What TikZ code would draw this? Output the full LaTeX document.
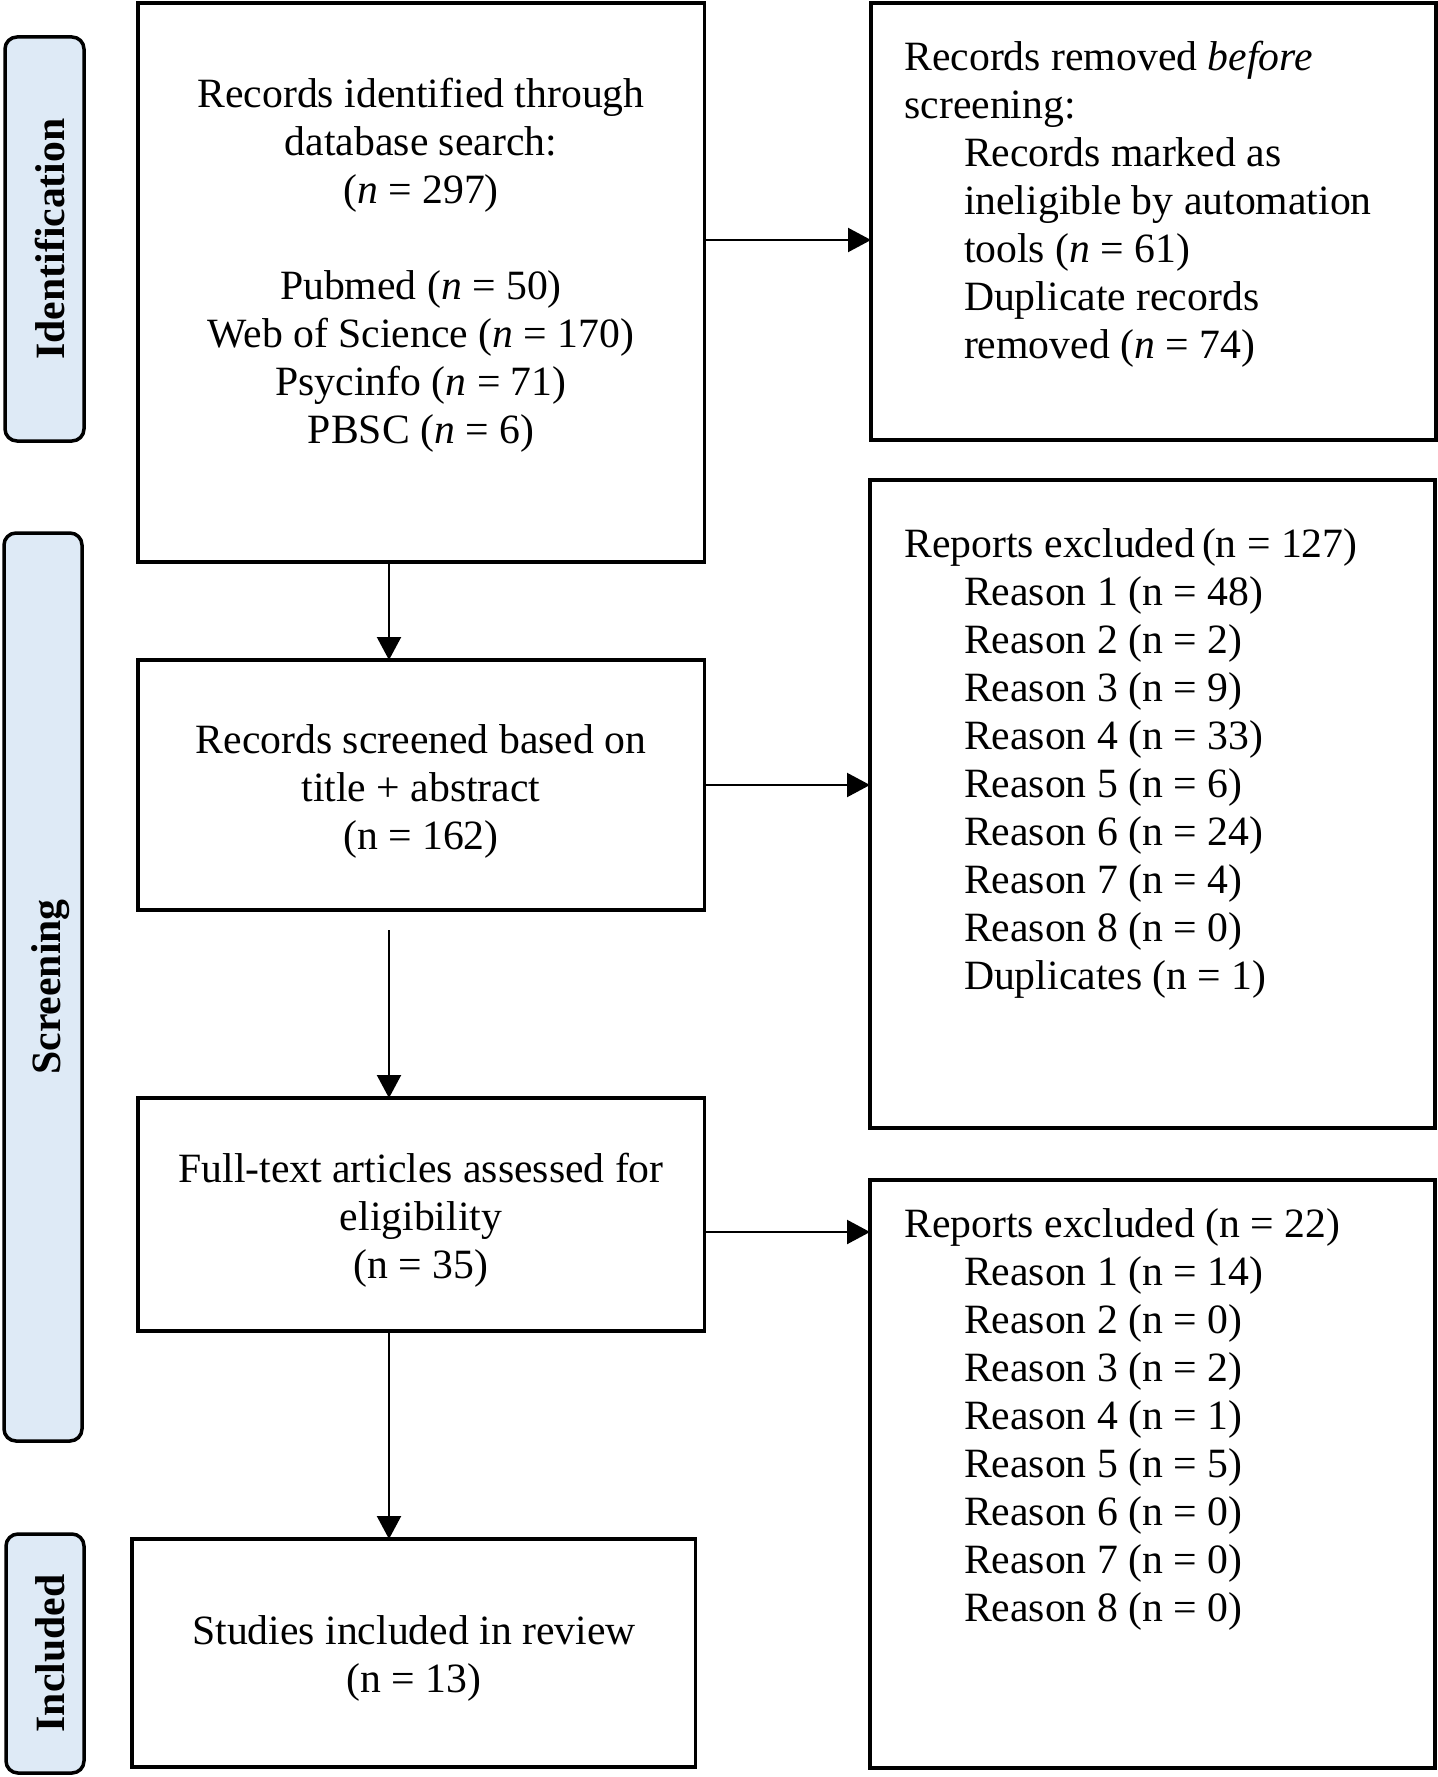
\documentclass[tikz,border=0pt]{standalone}
\usepackage{fontspec}
\setmainfont{Liberation Serif}
\usetikzlibrary{arrows.meta}
\definecolor{labelblue}{HTML}{DEEAF6}
\begin{document}
\begin{tikzpicture}[x=0.5pt,y=-0.5pt,
  box/.style={draw=black, line width=1.75pt, inner sep=0pt, outer sep=0pt, fill=white},
  phase/.style={draw=black, line width=1.75pt, rounded corners=6pt, fill=labelblue, inner sep=0pt, outer sep=0pt},
  phasetext/.style={rotate=90, anchor=base, inner sep=0pt, font=\fontsize{20.85}{24}\selectfont\bfseries},
  ctext/.style={align=center, anchor=north, inner sep=0pt, font=\fontsize{20.85}{24}\selectfont},
  ltext/.style={align=left, anchor=north west, inner sep=0pt, font=\fontsize{20.85}{24}\selectfont},
  arr/.style={line width=1.1pt, -{Triangle[length=11.5pt,width=12pt]}}
]
\useasboundingbox (0,0) rectangle (1438,1777);

% phase labels
\node[phase, minimum width=39.5pt, minimum height=202pt] (idl) at (44.5,239) {};
\node[phasetext] (idt) at (64,239) {Identification};
\node[phase, minimum width=39pt, minimum height=454pt] (scl) at (43,987) {};
\node[phasetext] (sct) at (61,987) {Screening};
\node[phase, minimum width=39pt, minimum height=119.5pt] (inl) at (45,1653.5) {};
\node[phasetext] (int) at (64,1653.5) {Included};

% boxes
\node[box, minimum width=283.25pt, minimum height=279.5pt] (main) at (421.25,282.5) {};
\node[box, minimum width=282.5pt, minimum height=218.5pt] (removed) at (1153.5,221.5) {};
\node[box, minimum width=283.25pt, minimum height=125pt] (screened) at (421.25,785) {};
\node[box, minimum width=282.5pt, minimum height=324pt] (exca) at (1152.5,804) {};
\node[box, minimum width=283.25pt, minimum height=116.5pt] (full) at (421.25,1214.5) {};
\node[box, minimum width=282.5pt, minimum height=294pt] (excb) at (1152.5,1474) {};
\node[box, minimum width=281.75pt, minimum height=114pt] (incl) at (413.75,1653) {};

% texts
\node[ctext] (maint) at (421,73) {\strut Records identified through\\ database search:\\ (\textit{n} = 297)\\ \strut\\ Pubmed (\textit{n} = 50)\\ Web of Science (\textit{n} = 170)\\ Psycinfo (\textit{n} = 71)\\ PBSC (\textit{n} = 6)};
\node[ltext] (remt) at (904,36) {\strut Records removed \textit{before}\\ screening:\\ \hspace*{29.8pt}Records marked as\\ \hspace*{29.8pt}ineligible by automation\\ \hspace*{29.8pt}tools (\textit{n} = 61)\\ \hspace*{29.8pt}Duplicate records\\ \hspace*{29.8pt}removed (\textit{n} = 74)};
\node[ctext] (scrt) at (421,719) {\strut Records screened based on\\ title + abstract\\ (n = 162)};
\node[ltext] (excat) at (904,523.5) {\strut Reports excluded\,(n = 127)\\ \hspace*{29.8pt}Reason 1 (n = 48)\\ \hspace*{29.8pt}Reason 2 (n = 2)\\ \hspace*{29.8pt}Reason 3 (n = 9)\\ \hspace*{29.8pt}Reason 4 (n = 33)\\ \hspace*{29.8pt}Reason 5 (n = 6)\\ \hspace*{29.8pt}Reason 6 (n = 24)\\ \hspace*{29.8pt}Reason 7 (n = 4)\\ \hspace*{29.8pt}Reason 8 (n = 0)\\ \hspace*{29.8pt}Duplicates (n = 1)};
\node[ctext] (fullt) at (421,1148.5) {\strut Full-text articles assessed for\\ eligibility\\ (n = 35)};
\node[ltext] (excbt) at (904,1203.5) {\strut Reports excluded (n = 22)\\ \hspace*{29.8pt}Reason 1 (n = 14)\\ \hspace*{29.8pt}Reason 2 (n = 0)\\ \hspace*{29.8pt}Reason 3 (n = 2)\\ \hspace*{29.8pt}Reason 4 (n = 1)\\ \hspace*{29.8pt}Reason 5 (n = 5)\\ \hspace*{29.8pt}Reason 6 (n = 0)\\ \hspace*{29.8pt}Reason 7 (n = 0)\\ \hspace*{29.8pt}Reason 8 (n = 0)};
\node[ctext] (inclt) at (414,1610) {\strut Studies included in review\\ (n = 13)};

% connectors
\coordinate (ax) at (389,0);
\coordinate (s2) at (389,930);
\coordinate (h1) at (0,240);
\coordinate (h3) at (0,1232);
\draw[arr] (main.south -| ax) -- (screened.north -| ax);
\draw[arr] (s2) -- (full.north -| s2);
\draw[arr] (full.south -| ax) -- (incl.north -| ax);
\draw[arr] (main.east |- h1) -- (removed.west |- h1);
\draw[arr] (screened.east) -- (exca.west |- screened.east);
\draw[arr] (full.east |- h3) -- (excb.west |- h3);
\end{tikzpicture}
\end{document}
